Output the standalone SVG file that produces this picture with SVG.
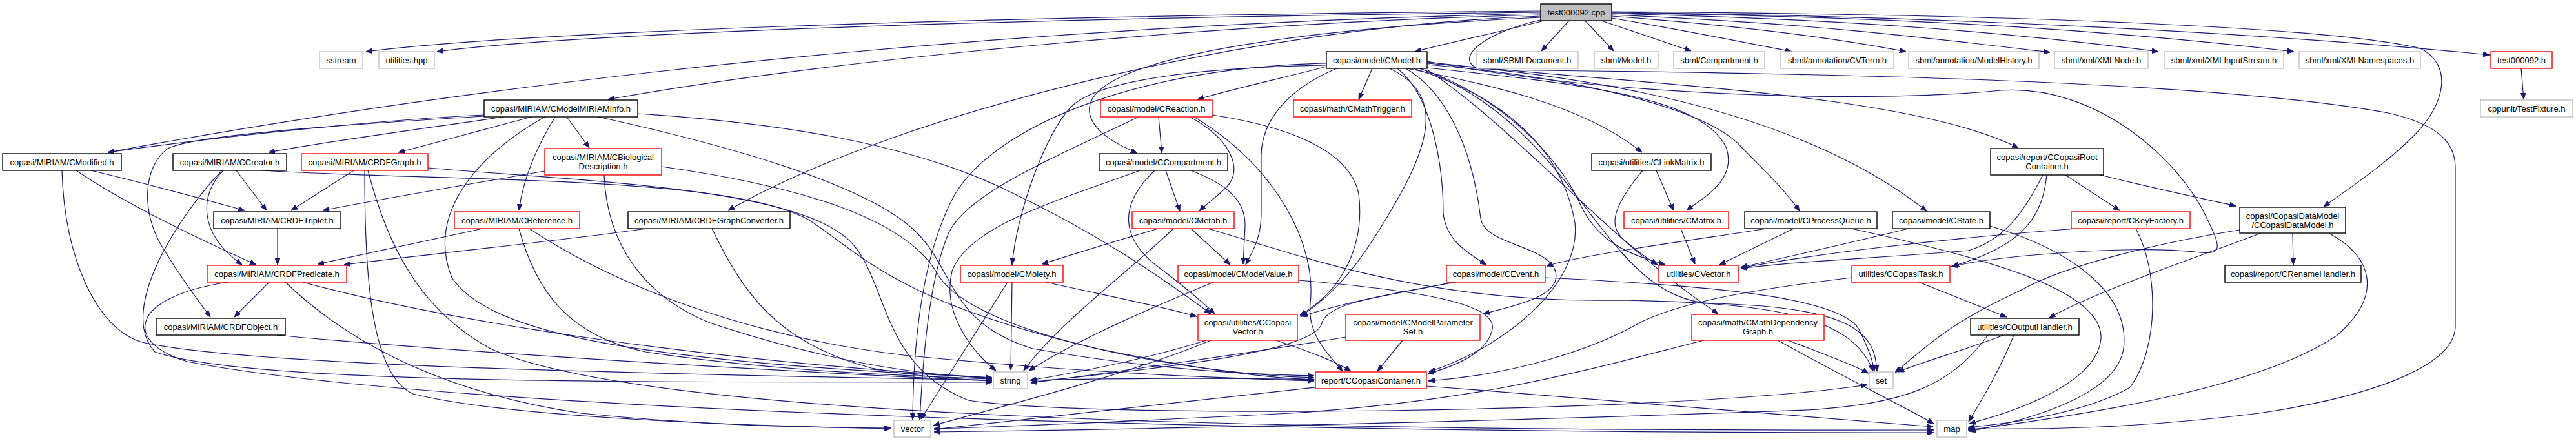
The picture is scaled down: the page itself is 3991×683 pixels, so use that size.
<svg xmlns="http://www.w3.org/2000/svg" width="3991" height="683" viewBox="0 0 3991 683">
<style>
.e{fill:none;stroke:#191970;stroke-width:1.2;marker-end:url(#a)}
.k rect{fill:#fff;stroke:#000;stroke-width:1.4}
.r rect{fill:#fff;stroke:#f00;stroke-width:1.4}
.g rect{fill:#fff;stroke:#bfbfbf;stroke-width:1.4}
.root rect{fill:#bfbfbf;stroke:#000;stroke-width:1.4}
text{font-family:"Liberation Sans",Arial,Helvetica,sans-serif;font-size:13px;text-anchor:middle;fill:#000}
</style>
<defs>
<marker id="a" viewBox="0 0 10 8" refX="10" refY="4" markerWidth="10" markerHeight="8" markerUnits="userSpaceOnUse" orient="auto"><path d="M0,0L10,4L0,8z" fill="#191970" stroke="#191970" stroke-width="0.8"/></marker>
</defs>
<rect width="3991" height="683" fill="#fff"/>
<g id="edges">
<path class="e" d="M2387,17 C1500,25 800,50 567,80"/>
<path class="e" d="M2387,19 C1600,28 900,50 677,80"/>
<path class="e" d="M2387,21 C1700,35 900,100 167,236"/>
<path class="e" d="M2387,23 C1900,35 1300,90 942,154"/>
<path class="e" d="M2387,25 C1950,40 1400,170 1128,326"/>
<path class="e" d="M2387,27 C2000,45 1700,90 1688,165 C1684,195 1720,220 1762,237"/>
<path class="e" d="M2392,32 C2330,48 2250,65 2192,80"/>
<path class="e" d="M2431,32 L2388,79"/>
<path class="e" d="M2456,32 L2500,79"/>
<path class="e" d="M2481,32 L2620,79"/>
<path class="e" d="M2497,28 C2600,45 2700,65 2776,80"/>
<path class="e" d="M2497,25 C2700,40 2850,60 2953,80"/>
<path class="e" d="M2497,23 C2800,35 3000,60 3176,81"/>
<path class="e" d="M2497,21 C2900,30 3150,55 3344,80"/>
<path class="e" d="M2497,20 C3000,27 3300,50 3554,80"/>
<path class="e" d="M2497,19 C3000,25 3500,50 3857,85"/>
<path class="e" d="M2497,18 C3100,22 3600,40 3750,75 C3800,100 3790,160 3740,210 C3700,250 3650,285 3600,320"/>
<path class="e" d="M2390,30 C2280,55 2250,100 2300,108 C2700,112 3400,120 3700,175 C3790,195 3804,230 3804,260 L3804,505 C3804,560 3700,610 3500,640 C3300,665 3150,665 3049,664"/>
<path class="e" d="M3906,106 L3910,154"/>
<path class="e" d="M2126,106 L2105,154"/>
<path class="e" d="M2055,103 C2000,118 1920,135 1855,154"/>
<path class="e" d="M2055,101 C1850,105 1700,125 1660,165 C1620,205 1575,330 1568,410"/>
<path class="e" d="M2055,98 C1750,105 1540,200 1480,300 C1430,390 1415,520 1414,650"/>
<path class="e" d="M2071,106 C1990,140 1955,190 1954,240 L1954,330 C1954,370 1940,390 1930,410"/>
<path class="e" d="M2153,106 C2225,140 2225,200 2170,300 C2125,380 2080,450 2014,490"/>
<path class="e" d="M2178,106 C2236,140 2280,220 2294,338 C2300,380 2400,380 2410,421 C2420,460 2340,475 2298,486"/>
<path class="e" d="M2190,106 C2330,150 2420,230 2440,345 C2450,430 2350,530 2214,576"/>
<path class="e" d="M2165,106 C2220,150 2236,260 2236,330 C2240,370 2270,390 2303,410"/>
<path class="e" d="M2180,106 C2300,130 2450,160 2544,236"/>
<path class="e" d="M2211,105 C2450,130 2640,150 2675,230 C2690,280 2640,305 2613,326"/>
<path class="e" d="M2200,106 C2330,150 2420,250 2450,320 C2480,380 2530,395 2580,410"/>
<path class="e" d="M2211,100 C2450,120 2650,170 2700,230 C2740,270 2770,300 2788,327"/>
<path class="e" d="M2211,98 C2500,120 2800,180 2985,327"/>
<path class="e" d="M2211,96 C2500,130 2950,140 3127,229"/>
<path class="e" d="M2211,95 C2500,150 2900,160 3100,140 C3250,130 3380,250 3420,340 C3445,390 3440,395 3400,390 C3300,380 3100,395 3023,413"/>
<path class="e" d="M2211,108 C2350,200 2500,380 2662,486"/>
<path class="e" d="M2200,106 C2450,200 2480,460 2650,470 C2880,475 2905,520 2908,575"/>
<path class="e" d="M1795,181 L1800,237"/>
<path class="e" d="M1843,181 C1900,210 1930,260 1900,290 C1885,305 1870,315 1858,327"/>
<path class="e" d="M1764,181 C1620,250 1500,300 1470,360 C1440,430 1430,550 1425,650"/>
<path class="e" d="M1878,178 C1990,195 2090,230 2105,300 C2115,380 2080,450 2014,488"/>
<path class="e" d="M1850,181 C1980,260 2040,380 2030,470 C2025,520 2060,550 2080,575"/>
<path class="e" d="M1806,264 L1828,327"/>
<path class="e" d="M1845,264 C1900,285 1930,310 1929,350 L1926,409"/>
<path class="e" d="M1789,264 C1730,320 1740,370 1790,410 C1830,440 1860,465 1882,486"/>
<path class="e" d="M1766,264 C1640,310 1500,350 1475,420 C1460,480 1500,540 1543,574"/>
<path class="e" d="M1795,354 C1720,375 1660,395 1614,409"/>
<path class="e" d="M1818,354 C1750,420 1640,500 1586,574"/>
<path class="e" d="M1845,354 L1906,410"/>
<path class="e" d="M1871,354 C2000,390 2200,470 2500,465 C2750,468 2870,490 2902,575"/>
<path class="e" d="M1568,437 L1566,573"/>
<path class="e" d="M1561,437 L1427,649"/>
<path class="e" d="M1621,437 C1700,455 1780,470 1854,490"/>
<path class="e" d="M1880,437 C1800,470 1680,520 1594,574"/>
<path class="e" d="M2012,434 C2200,450 2320,470 2312,510 C2305,545 2260,565 2212,579"/>
<path class="e" d="M1869,527 C1780,555 1680,575 1596,589"/>
<path class="e" d="M1876,527 C1750,580 1550,630 1446,659"/>
<path class="e" d="M1977,527 C2030,545 2070,560 2093,575"/>
<path class="e" d="M2256,437 C2150,455 2080,470 2016,490"/>
<path class="e" d="M2250,437 C2150,460 2060,465 2048,500 C2040,545 1800,570 1597,592"/>
<path class="e" d="M2394,430 C2600,440 2850,455 2880,510 C2895,540 2902,560 2904,575"/>
<path class="e" d="M2173,527 L2134,575"/>
<path class="e" d="M2085,522 C1950,545 1700,580 1597,593"/>
<path class="e" d="M2038,600 C1800,625 1600,650 1447,665"/>
<path class="e" d="M2210,598 C2500,620 2800,645 2995,661"/>
<path class="e" d="M2038,588 C1900,585 1700,586 1597,589"/>
<path class="e" d="M3200,271 L3284,326"/>
<path class="e" d="M3254,271 C3330,290 3400,305 3464,319"/>
<path class="e" d="M3165,271 C3140,320 3110,370 3050,388 C2900,400 2780,405 2697,416"/>
<path class="e" d="M3171,271 C3165,330 3140,380 3025,412"/>
<path class="e" d="M3218,354 C3000,370 2800,395 2697,415"/>
<path class="e" d="M3309,354 C3345,420 3345,540 3300,600 C3230,640 3120,655 3049,662"/>
<path class="e" d="M3552,361 L3553,410"/>
<path class="e" d="M3503,361 C3400,400 3250,450 3175,492"/>
<path class="e" d="M3608,361 C3680,400 3690,460 3620,520 C3500,600 3250,640 3049,666"/>
<path class="e" d="M3470,356 C3350,375 3200,410 3130,450 C3020,500 2980,540 2936,577"/>
<path class="e" d="M2973,437 L3109,491"/>
<path class="e" d="M2869,430 C2700,450 2600,470 2540,500 C2470,540 2350,580 2213,590"/>
<path class="e" d="M3104,519 C3050,540 2980,560 2940,576"/>
<path class="e" d="M3120,519 C3100,570 3070,620 3050,653"/>
<path class="e" d="M3080,519 C3020,600 2950,625 2800,635 C2400,650 1800,665 1447,669"/>
<path class="e" d="M2770,527 C2830,550 2870,565 2895,578"/>
<path class="e" d="M2754,527 C2850,580 2930,620 2996,656"/>
<path class="e" d="M2640,527 C2450,575 2300,620 2000,640 C1800,650 1600,660 1447,664"/>
<path class="e" d="M2566,264 L2593,326"/>
<path class="e" d="M2545,264 C2490,330 2495,355 2520,375 C2540,392 2555,402 2568,410"/>
<path class="e" d="M2604,354 L2626,409"/>
<path class="e" d="M2779,354 L2664,410"/>
<path class="e" d="M2868,354 C3080,400 3260,450 3255,525 C3250,585 3150,630 3051,656"/>
<path class="e" d="M2738,354 C2600,375 2450,395 2396,412"/>
<path class="e" d="M2957,354 C2850,380 2760,400 2697,414"/>
<path class="e" d="M3083,350 C3220,390 3300,460 3290,540 C3280,610 3150,650 3051,668"/>
<path class="e" d="M141,264 C250,290 320,310 379,326"/>
<path class="e" d="M118,264 C200,320 330,380 397,410"/>
<path class="e" d="M96,264 C100,400 150,510 220,530 C400,570 1100,580 1537,589"/>
<path class="e" d="M366,264 L413,326"/>
<path class="e" d="M346,264 C310,300 305,360 375,410"/>
<path class="e" d="M344,264 C280,330 180,480 240,545 C400,600 1100,590 1537,592"/>
<path class="e" d="M406,264 C700,282 1150,270 1260,345 C1340,400 1400,470 1700,540 C1850,570 1950,585 2036,588"/>
<path class="e" d="M548,264 L451,326"/>
<path class="e" d="M565,264 C565,400 570,580 640,610 C800,650 1200,660 1380,664"/>
<path class="e" d="M570,264 C600,380 650,480 760,540 C1000,650 2000,668 2996,666"/>
<path class="e" d="M663,260 C900,280 1200,290 1300,360 C1380,410 1350,560 1500,620 C1700,650 2600,640 2893,596"/>
<path class="e" d="M844,265 C700,290 580,310 500,326"/>
<path class="e" d="M936,271 C940,380 1000,460 1100,500 C1250,550 1400,580 1537,586"/>
<path class="e" d="M1025,258 C1250,290 1400,340 1450,420 C1500,520 1850,580 2036,585"/>
<path class="e" d="M748,354 C650,375 560,395 492,409"/>
<path class="e" d="M804,354 C830,450 880,520 1000,545 C1200,575 1400,582 1537,587"/>
<path class="e" d="M820,354 C950,440 1150,520 1400,550 C1700,580 1900,585 2036,590"/>
<path class="e" d="M1003,354 C850,375 650,395 533,410"/>
<path class="e" d="M1103,354 C1150,450 1200,530 1350,570 C1430,585 1490,588 1537,589"/>
<path class="e" d="M430,354 L430,410"/>
<path class="e" d="M417,437 L363,491"/>
<path class="e" d="M469,437 C700,500 1100,560 1537,585"/>
<path class="e" d="M442,437 C550,540 700,610 900,640 C1100,660 1250,662 1380,663"/>
<path class="e" d="M353,437 C200,460 190,530 290,560 C700,640 2000,672 2996,670"/>
<path class="e" d="M429,519 C700,545 1200,575 1537,590"/>
<path class="e" d="M750,178 C600,185 350,210 167,236"/>
<path class="e" d="M750,180 C500,195 300,210 260,230 C220,260 220,330 250,380 C280,430 310,470 326,491"/>
<path class="e" d="M780,181 C650,200 500,220 416,236"/>
<path class="e" d="M824,181 C750,200 680,220 617,236"/>
<path class="e" d="M844,181 C740,240 660,330 700,430 C760,520 1000,560 1537,585"/>
<path class="e" d="M860,181 C830,230 810,280 804,326"/>
<path class="e" d="M878,181 L913,229"/>
<path class="e" d="M927,181 C1150,230 1350,290 1420,360 C1480,420 1470,500 1600,540 C1800,575 1950,580 2036,582"/>
<path class="e" d="M988,176 C1200,190 1400,220 1550,290 C1700,360 1800,430 1876,486"/>
</g>
<g id="n_root" class="root"><rect x="2387" y="6" width="110" height="26"/><text x="2442" y="23.5">test000092.cpp</text></g>
<g id="n_sstream" class="g"><rect x="495" y="80" width="67" height="26"/><text x="528.5" y="97.5">sstream</text></g>
<g id="n_utilities_hpp" class="g"><rect x="587" y="80" width="86" height="26"/><text x="630" y="97.5">utilities.hpp</text></g>
<g id="n_CModel" class="k"><rect x="2055" y="80" width="156" height="26"/><text x="2133" y="97.5">copasi/model/CModel.h</text></g>
<g id="n_SBMLDocument" class="g"><rect x="2287" y="80" width="158" height="26"/><text x="2366" y="97.5">sbml/SBMLDocument.h</text></g>
<g id="n_sbmlModel" class="g"><rect x="2470" y="80" width="99" height="26"/><text x="2519.5" y="97.5">sbml/Model.h</text></g>
<g id="n_sbmlCompartment" class="g"><rect x="2593" y="80" width="141" height="26"/><text x="2663.5" y="97.5">sbml/Compartment.h</text></g>
<g id="n_CVTerm" class="g"><rect x="2759" y="80" width="175" height="26"/><text x="2846.5" y="97.5">sbml/annotation/CVTerm.h</text></g>
<g id="n_ModelHistory" class="g"><rect x="2957" y="80" width="202" height="26"/><text x="3058" y="97.5">sbml/annotation/ModelHistory.h</text></g>
<g id="n_XMLNode" class="g"><rect x="3183" y="80" width="145" height="26"/><text x="3255.5" y="97.5">sbml/xml/XMLNode.h</text></g>
<g id="n_XMLInputStream" class="g"><rect x="3353" y="80" width="185" height="26"/><text x="3445.5" y="97.5">sbml/xml/XMLInputStream.h</text></g>
<g id="n_XMLNamespaces" class="g"><rect x="3562" y="80" width="188" height="26"/><text x="3656" y="97.5">sbml/xml/XMLNamespaces.h</text></g>
<g id="n_test000092h" class="r"><rect x="3859" y="80" width="95" height="26"/><text x="3906.5" y="97.5">test000092.h</text></g>
<g id="n_TestFixture" class="g"><rect x="3843" y="155" width="143" height="26"/><text x="3914.5" y="172.5">cppunit/TestFixture.h</text></g>
<g id="n_CModelMIRIAMInfo" class="k"><rect x="750" y="155" width="238" height="26"/><text x="869" y="172.5">copasi/MIRIAM/CModelMIRIAMInfo.h</text></g>
<g id="n_CReaction" class="r"><rect x="1705" y="155" width="173" height="26"/><text x="1791.5" y="172.5">copasi/model/CReaction.h</text></g>
<g id="n_CMathTrigger" class="r"><rect x="2004" y="155" width="183" height="26"/><text x="2095.5" y="172.5">copasi/math/CMathTrigger.h</text></g>
<g id="n_CModified" class="k"><rect x="4" y="238" width="184" height="26"/><text x="96" y="255.5">copasi/MIRIAM/CModified.h</text></g>
<g id="n_CCreator" class="k"><rect x="268" y="238" width="176" height="26"/><text x="356" y="255.5">copasi/MIRIAM/CCreator.h</text></g>
<g id="n_CRDFGraph" class="r"><rect x="467" y="238" width="196" height="26"/><text x="565" y="255.5">copasi/MIRIAM/CRDFGraph.h</text></g>
<g id="n_CBiologicalDescription" class="r"><rect x="844" y="230" width="181" height="41"/><text x="934.5" y="247.5">copasi/MIRIAM/CBiological</text><text x="934.5" y="261.5">Description.h</text></g>
<g id="n_CCompartment" class="k"><rect x="1703" y="238" width="199" height="26"/><text x="1802.5" y="255.5">copasi/model/CCompartment.h</text></g>
<g id="n_CLinkMatrix" class="k"><rect x="2466" y="238" width="185" height="26"/><text x="2558.5" y="255.5">copasi/utilities/CLinkMatrix.h</text></g>
<g id="n_CCopasiRootContainer" class="k"><rect x="3084" y="230" width="175" height="41"/><text x="3171.5" y="247.5">copasi/report/CCopasiRoot</text><text x="3171.5" y="261.5">Container.h</text></g>
<g id="n_CRDFTriplet" class="k"><rect x="331" y="328" width="197" height="26"/><text x="429.5" y="345.5">copasi/MIRIAM/CRDFTriplet.h</text></g>
<g id="n_CReference" class="r"><rect x="704" y="328" width="194" height="26"/><text x="801" y="345.5">copasi/MIRIAM/CReference.h</text></g>
<g id="n_CRDFGraphConverter" class="k"><rect x="973" y="328" width="251" height="26"/><text x="1098.5" y="345.5">copasi/MIRIAM/CRDFGraphConverter.h</text></g>
<g id="n_CMetab" class="r"><rect x="1754" y="328" width="158" height="26"/><text x="1833" y="345.5">copasi/model/CMetab.h</text></g>
<g id="n_CMatrix" class="r"><rect x="2516" y="328" width="162" height="26"/><text x="2597" y="345.5">copasi/utilities/CMatrix.h</text></g>
<g id="n_CProcessQueue" class="k"><rect x="2703" y="328" width="205" height="26"/><text x="2805.5" y="345.5">copasi/model/CProcessQueue.h</text></g>
<g id="n_CState" class="k"><rect x="2932" y="328" width="151" height="26"/><text x="3007.5" y="345.5">copasi/model/CState.h</text></g>
<g id="n_CKeyFactory" class="r"><rect x="3209" y="328" width="184" height="26"/><text x="3301" y="345.5">copasi/report/CKeyFactory.h</text></g>
<g id="n_CCopasiDataModel" class="k"><rect x="3470" y="321" width="164" height="40"/><text x="3552" y="338.5">copasi/CopasiDataModel</text><text x="3552" y="352.5">/CCopasiDataModel.h</text></g>
<g id="n_CRDFPredicate" class="r"><rect x="321" y="411" width="216" height="26"/><text x="429" y="428.5">copasi/MIRIAM/CRDFPredicate.h</text></g>
<g id="n_CMoiety" class="r"><rect x="1488" y="411" width="159" height="26"/><text x="1567.5" y="428.5">copasi/model/CMoiety.h</text></g>
<g id="n_CModelValue" class="r"><rect x="1825" y="411" width="187" height="26"/><text x="1918.5" y="428.5">copasi/model/CModelValue.h</text></g>
<g id="n_CEvent" class="r"><rect x="2241" y="411" width="153" height="26"/><text x="2317.5" y="428.5">copasi/model/CEvent.h</text></g>
<g id="n_CVector" class="r"><rect x="2570" y="411" width="123" height="26"/><text x="2631.5" y="428.5">utilities/CVector.h</text></g>
<g id="n_CCopasiTask" class="r"><rect x="2869" y="411" width="152" height="26"/><text x="2945" y="428.5">utilities/CCopasiTask.h</text></g>
<g id="n_CRenameHandler" class="k"><rect x="3447" y="411" width="211" height="26"/><text x="3552.5" y="428.5">copasi/report/CRenameHandler.h</text></g>
<g id="n_CRDFObject" class="k"><rect x="242" y="493" width="200" height="26"/><text x="342" y="510.5">copasi/MIRIAM/CRDFObject.h</text></g>
<g id="n_CCopasiVector" class="r"><rect x="1856" y="487" width="154" height="40"/><text x="1933" y="503.5">copasi/utilities/CCopasi</text><text x="1933" y="517.5">Vector.h</text></g>
<g id="n_CModelParameterSet" class="r"><rect x="2085" y="487" width="208" height="40"/><text x="2189" y="503.5">copasi/model/CModelParameter</text><text x="2189" y="517.5">Set.h</text></g>
<g id="n_CMathDependencyGraph" class="r"><rect x="2621" y="487" width="205" height="40"/><text x="2723.5" y="503.5">copasi/math/CMathDependency</text><text x="2723.5" y="517.5">Graph.h</text></g>
<g id="n_COutputHandler" class="k"><rect x="3053" y="493" width="168" height="26"/><text x="3137" y="510.5">utilities/COutputHandler.h</text></g>
<g id="n_string" class="g"><rect x="1539" y="576" width="53" height="26"/><text x="1565.5" y="593.5">string</text></g>
<g id="n_CCopasiContainer" class="r"><rect x="2038" y="576" width="172" height="26"/><text x="2124" y="593.5">report/CCopasiContainer.h</text></g>
<g id="n_set" class="g"><rect x="2896" y="576" width="37" height="26"/><text x="2914.5" y="593.5">set</text></g>
<g id="n_vector" class="g"><rect x="1385" y="651" width="57" height="26"/><text x="1413.5" y="668.5">vector</text></g>
<g id="n_map" class="g"><rect x="3001" y="651" width="46" height="26"/><text x="3024" y="668.5">map</text></g>
</svg>
